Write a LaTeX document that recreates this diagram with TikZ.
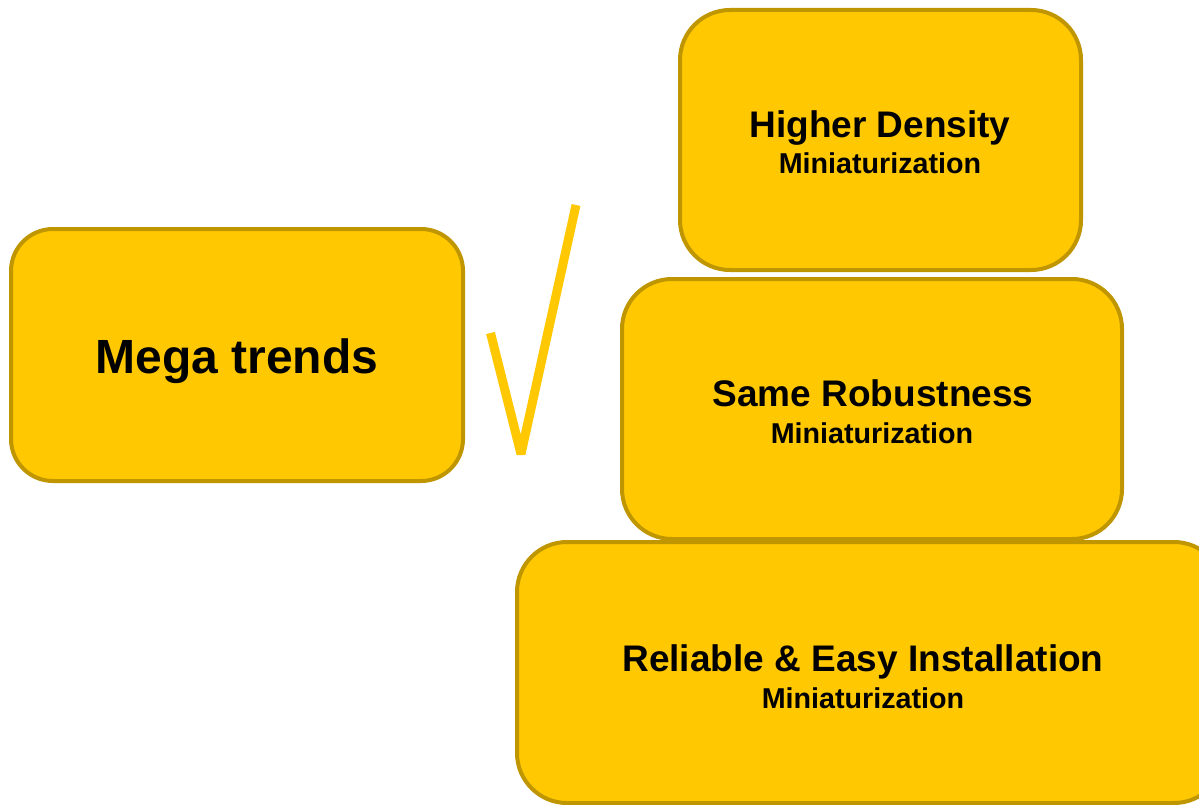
\documentclass[tikz,border=0pt]{standalone}
\usepackage{fontspec}
\setmainfont{Liberation Sans}
\definecolor{boxfill}{RGB}{255,200,0}
\definecolor{boxline}{RGB}{191,150,0}
\definecolor{checkcol}{RGB}{255,200,0}
\begin{document}
\begin{tikzpicture}[x=1pt,y=-1pt,
  trendbox/.style={draw=boxline,fill=boxfill,line width=4pt},
  titletext/.style={anchor=base,inner sep=0pt,font=\bfseries\fontsize{37}{40}\selectfont},
  subtext/.style={anchor=base,inner sep=0pt,font=\bfseries\fontsize{28.7}{31}\selectfont},
  megatext/.style={anchor=base,inner sep=0pt,font=\bfseries\fontsize{48}{52}\selectfont}]
\useasboundingbox (0,0) rectangle (1199,805);
% boxes
\draw[trendbox,rounded corners=42pt] (11,229) rectangle (463,481);
\draw[trendbox,rounded corners=50pt] (680,10) rectangle (1081,270);
\draw[trendbox,rounded corners=50pt] (622,279) rectangle (1122,539);
\draw[trendbox,rounded corners=50pt] (517,542) rectangle (1224,803);
% texts
\node[megatext] (megaT) at (237,373) {Mega trends};
\node[titletext] (hdT) at (880,138) {Higher Density};
\node[subtext] (hdS) at (880,174) {Miniaturization};
\node[titletext] (srT) at (873,406) {Same Robustness};
\node[subtext] (srS) at (872,443) {Miniaturization};
\node[titletext] (reT) at (863,671) {Reliable \& Easy Installation};
\node[subtext] (reS) at (863,708) {Miniaturization};
% check mark
\coordinate (c1) at (490.5,333);
\coordinate (c2) at (521,454);
\coordinate (c3) at (576,205);
\draw[checkcol,line width=9pt,line join=bevel] (c1) -- (c2) -- (c3);
\end{tikzpicture}
\end{document}
